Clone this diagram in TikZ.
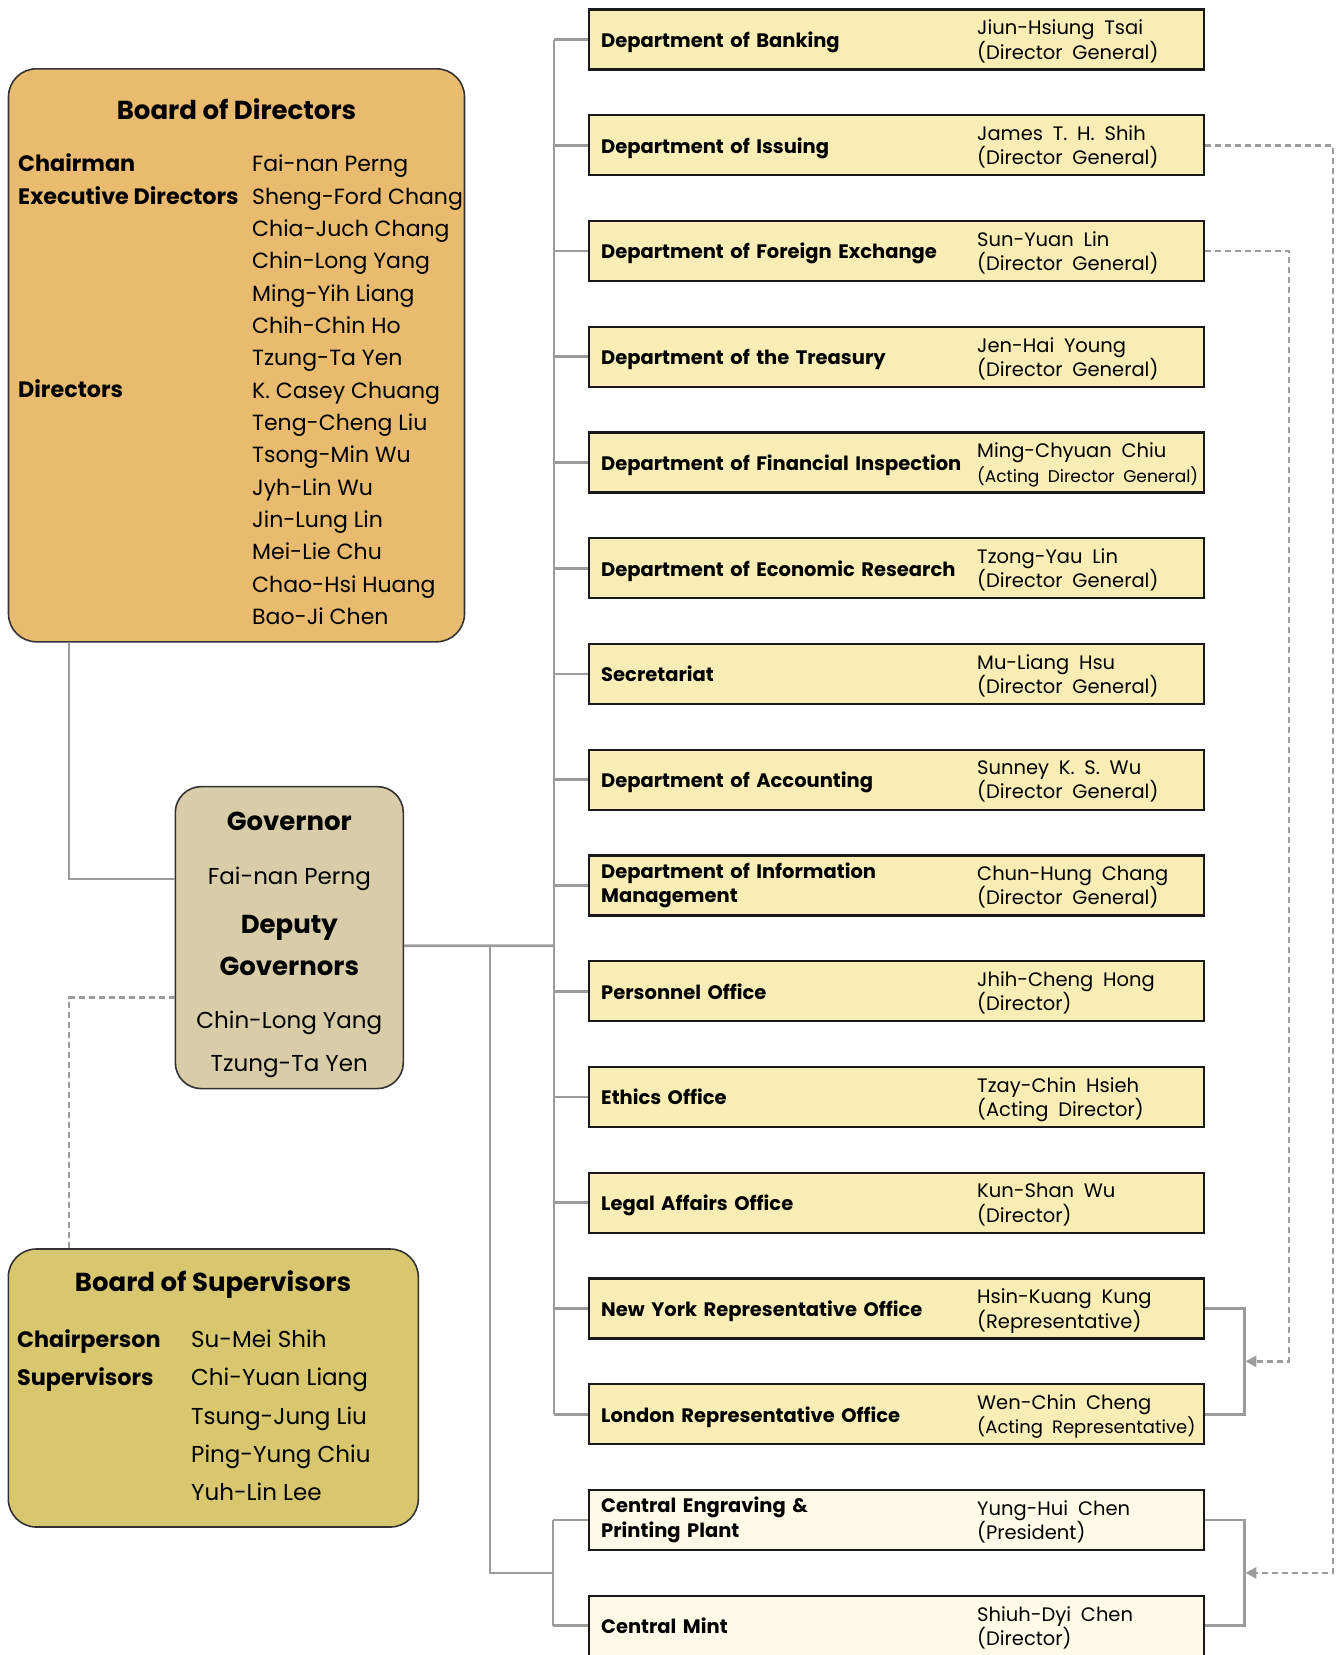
\documentclass[tikz,border=0pt]{standalone}
\usepackage{fontspec}
\setmainfont{Poppins}
\usetikzlibrary{positioning,calc,arrows.meta}

\definecolor{deptfill}{HTML}{F8EDB5}
\definecolor{plantfill}{HTML}{FFFBE8}
\definecolor{boardfill}{HTML}{E8BB6F}
\definecolor{govfill}{HTML}{D8CDA8}
\definecolor{supfill}{HTML}{D9C76F}
\definecolor{linegray}{HTML}{9C9C9C}

\newcommand\deptfont{\fontsize{19.5}{24.3}\selectfont\bfseries}
\newcommand\whofont{\fontsize{19.5}{24.3}\selectfont\spaceskip=.5em\relax}
\newcommand\actfont{\fontsize{17}{24.3}\selectfont\spaceskip=.5em\relax}
\newcommand\repfont{\fontsize{18}{24.3}\selectfont\spaceskip=.5em\relax}
\newcommand\boardfont{\fontsize{23}{32.35}\selectfont}
\newcommand\bodnamefont{\fontsize{22}{32.35}\selectfont}
\newcommand\rolefont{\fontsize{22.3}{32.35}\selectfont\bfseries}
\newcommand\supnamefont{\fontsize{23}{38.3}\selectfont}
\newcommand\headfont{\fontsize{26}{32}\selectfont\bfseries}

\tikzset{
  dept/.style={draw=black!90, line width=2.4pt, fill=deptfill, anchor=west,
    minimum width=615pt, minimum height=60pt, text width=591pt, text depth=0pt,
    inner xsep=12pt, inner ysep=0pt, align=left, font=\deptfont},
  twoline/.style={text depth=},
  plant/.style={dept, fill=plantfill},
  who/.style={anchor=west, inner sep=0pt, align=left, text depth=0pt, font=\whofont},
  board/.style={draw=black!80, line width=1.6pt, rounded corners=28pt},
  head/.style={inner sep=0pt, font=\headfont},
  role/.style={anchor=base west, inner sep=0pt, font=\rolefont},
  names/.style={anchor=base west, inner sep=0pt, align=left, font=\boardfont},
  conn/.style={draw=linegray, line width=2.6pt},
  dashconn/.style={draw=linegray, line width=2.6pt, dash pattern=on 6pt off 4pt},
}

\begin{document}
\begin{tikzpicture}[x=1pt,y=-1pt]
\useasboundingbox (0,0) rectangle (1342,1655);

% departments and offices
\node[dept] (d0) at (588,39.5) {Department of Banking};
\node[who] (n0) [right=389pt of d0.west] {Jiun-Hsiung Tsai\\(Director General)};
\node[dept] (d1) at (588,145.25) {Department of Issuing};
\node[who] (n1) [right=389pt of d1.west] {James T. H. Shih\\(Director General)};
\node[dept] (d2) at (588,251) {Department of Foreign Exchange};
\node[who] (n2) [right=389pt of d2.west] {Sun-Yuan Lin\\(Director General)};
\node[dept] (d3) at (588,356.75) {Department of the Treasury};
\node[who] (n3) [right=389pt of d3.west] {Jen-Hai Young\\(Director General)};
\node[dept] (d4) at (588,462.5) {Department of Financial Inspection};
\node[who] (n4) [right=389pt of d4.west] {Ming-Chyuan Chiu\\{\actfont(Acting Director General)}};
\node[dept] (d5) at (588,568.25) {Department of Economic Research};
\node[who] (n5) [right=389pt of d5.west] {Tzong-Yau Lin\\(Director General)};
\node[dept] (d6) at (588,674) {Secretariat};
\node[who] (n6) [right=389pt of d6.west] {Mu-Liang Hsu\\(Director General)};
\node[dept] (d7) at (588,779.75) {Department of Accounting};
\node[who] (n7) [right=389pt of d7.west] {Sunney K. S. Wu\\(Director General)};
\node[dept, twoline] (d8) at (588,885.5) {Department of Information\\Management};
\node[who] (n8) [right=389pt of d8.west] {Chun-Hung Chang\\(Director General)};
\node[dept] (d9) at (588,991.25) {Personnel Office};
\node[who] (n9) [right=389pt of d9.west] {Jhih-Cheng Hong\\(Director)};
\node[dept] (d10) at (588,1097) {Ethics Office};
\node[who] (n10) [right=389pt of d10.west] {Tzay-Chin Hsieh\\(Acting Director)};
\node[dept] (d11) at (588,1202.75) {Legal Affairs Office};
\node[who] (n11) [right=389pt of d11.west] {Kun-Shan Wu\\(Director)};
\node[dept] (d12) at (588,1308.5) {New York Representative Office};
\node[who] (n12) [right=389pt of d12.west] {Hsin-Kuang Kung\\(Representative)};
\node[dept] (d13) at (588,1414.25) {London Representative Office};
\node[who] (n13) [right=389pt of d13.west] {Wen-Chin Cheng\\{\repfont(Acting Representative)}};
\node[plant, twoline] (d14) at (588,1520) {Central Engraving \&\\Printing Plant};
\node[who] (n14) [right=389pt of d14.west] {Yung-Hui Chen\\(President)};
\node[plant] (d15) at (588,1625.75) {Central Mint};
\node[who] (n15) [right=389pt of d15.west] {Shiuh-Dyi Chen\\(Director)};

% board of directors
\node[board, fill=boardfill, minimum width=456pt, minimum height=573pt] (bod) at (236.5,355.3) {};
\node[head] (bodhead) at (236.5,108.8) {Board of Directors};
\node[role] (chair) at (18,171.7) {Chairman};
\node[role] (execs) at (18,204.05) {Executive Directors};
\node[role] (dirs) at (18,397.8) {Directors};
% names: anchored at the baseline of the last line
\node[names, font=\bodnamefont] (bodnames) at (252,624.6) {Fai-nan Perng\\Sheng-Ford Chang\\Chia-Juch Chang\\Chin-Long Yang\\Ming-Yih Liang\\Chih-Chin Ho\\Tzung-Ta Yen\\K. Casey Chuang\\Teng-Cheng Liu\\Tsong-Min Wu\\Jyh-Lin Wu\\Jin-Lung Lin\\Mei-Lie Chu\\Chao-Hsi Huang\\Bao-Ji Chen};

% governor
\node[board, fill=govfill, rounded corners=26pt, minimum width=228pt, minimum height=302pt] (gov) at (289.3,937.6) {};
\node[head] (govhead) at (289.3,821.5) {Governor};
\node[inner sep=0pt, font=\boardfont] (govname) at (289.3,878.5) {Fai-nan Perng};
\node[head] (dephead) at (289.3,928) {Deputy};
\node[head] (dephead2) at (289.3,966) {Governors};
\node[inner sep=0pt, font=\boardfont] (depname1) at (289.3,1022.5) {Chin-Long Yang};
\node[inner sep=0pt, font=\boardfont] (depname2) at (289.3,1067) {Tzung-Ta Yen};

% board of supervisors
\node[board, fill=supfill, minimum width=410pt, minimum height=278pt] (sup) at (213.3,1388) {};
\node[head] (suphead) at (213,1285) {Board of Supervisors};
\node[role] (supchair) at (17,1347.5) {Chairperson};
\node[role] (supmem) at (17,1385.8) {Supervisors};
\node[names, font=\supnamefont] (supnames) at (191,1500.7) {Su-Mei Shih\\Chi-Yuan Liang\\Tsung-Jung Liu\\Ping-Yung Chiu\\Yuh-Lin Lee};

% connectors
\coordinate (trunk) at (554,945.7);
\coordinate (fork) at (490,945.7);
\coordinate (plantbar) at (553,1573);
\coordinate (rx1) at (1289,0);
\coordinate (rx2) at (1333,0);

\draw[conn] ([xshift=61.3pt]bod.south west) |- ([yshift=58.6pt]gov.west);
\draw[dashconn] ([yshift=-60pt]gov.west) -| ([xshift=61.3pt]sup.north west);
\draw[conn] ([yshift=-8.1pt]gov.east) -- (trunk);
\draw[conn] (d0.west -| trunk) -- (d13.west -| trunk);
\foreach \k in {0,...,13}
  \draw[conn] (d\k.west -| trunk) -- (d\k.west);
\draw[conn] (fork) |- (plantbar);
\draw[conn] (d14.west -| plantbar) -- (d15.west -| plantbar);
\draw[conn] (d14.west -| plantbar) -- (d14.west);
\draw[conn] (d15.west -| plantbar) -- (d15.west);

\draw[conn] (d12.east) -- ++(39,0) |- (d13.east);
\draw[conn] (d14.east) -- ++(39,0) |- (d15.east);
\coordinate (repmid) at ($(d12.east)!.5!(d13.east) + (39,0)$);
\coordinate (plantmid) at ($(d14.east)!.5!(d15.east) + (39,0)$);
\draw[dashconn, -{Triangle[length=11pt,width=11pt]}, shorten >=1pt] (d2.east) -- (d2.east -| rx1) |- (repmid);
\draw[dashconn, -{Triangle[length=11pt,width=11pt]}, shorten >=1pt] (d1.east) -- (d1.east -| rx2) |- (plantmid);
\end{tikzpicture}
\end{document}
